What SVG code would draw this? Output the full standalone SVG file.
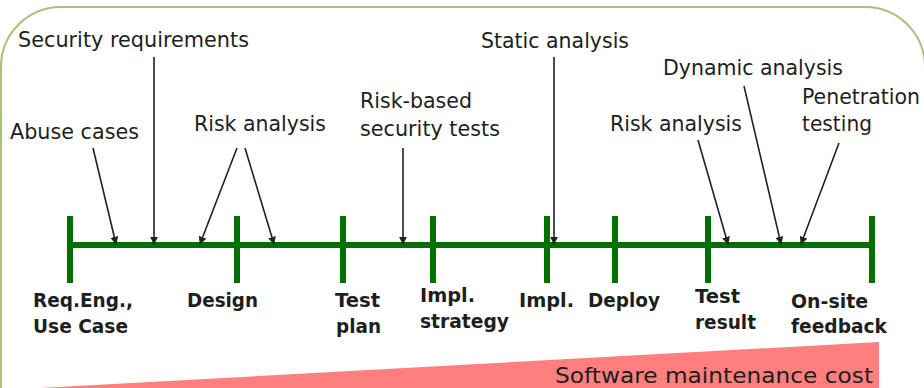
<svg xmlns="http://www.w3.org/2000/svg" width="924" height="388" viewBox="0 0 924 388">
<style>
.lbl{font-family:"DejaVu Sans",Verdana,sans-serif;font-size:20.5px;fill:#1e1e1e}
.ph{font-family:"DejaVu Sans",Verdana,sans-serif;font-size:19.5px;font-weight:bold;fill:#1e1e1e}
.tl{stroke:#007000;stroke-width:6;fill:none}
.ar{stroke:#222;stroke-width:1.6;fill:none;marker-end:url(#ah)}
</style>
<defs>
<marker id="ah" viewBox="0 0 10 10" refX="9" refY="5" markerWidth="8" markerHeight="8" markerUnits="userSpaceOnUse" orient="auto">
<path d="M0,0 L10,5 L0,10 Z" fill="#222"/>
</marker>
</defs>
<rect width="924" height="388" fill="#fff"/>
<rect id="frame" x="1" y="7" width="924" height="440" rx="60" ry="60" fill="none" stroke="#a8c07a" stroke-width="2"/>
<g id="cost">
<polygon points="40,388 879,342 879,388" fill="#ff7f7f"/>
<text class="lbl" x="555" y="383" textLength="318" lengthAdjust="spacingAndGlyphs" fill="#2a2a2a">Software maintenance cost</text>
</g>
<g id="timeline">
<line class="tl" x1="70" y1="245" x2="872" y2="245"/>
<line class="tl" x1="70" y1="216" x2="70" y2="283"/>
<line class="tl" x1="237" y1="216" x2="237" y2="283"/>
<line class="tl" x1="343" y1="216" x2="343" y2="283"/>
<line class="tl" x1="433" y1="216" x2="433" y2="283"/>
<line class="tl" x1="547" y1="216" x2="547" y2="283"/>
<line class="tl" x1="615" y1="216" x2="615" y2="283"/>
<line class="tl" x1="708" y1="216" x2="708" y2="283"/>
<line class="tl" x1="872" y1="216" x2="872" y2="283"/>
</g>
<g id="connectors">
<line class="ar" x1="93" y1="148" x2="116" y2="244"/>
<line class="ar" x1="154" y1="57" x2="154" y2="244"/>
<line class="ar" x1="237" y1="148" x2="200" y2="244"/>
<line class="ar" x1="245" y1="148" x2="274" y2="244"/>
<line class="ar" x1="403" y1="148" x2="403" y2="244"/>
<line class="ar" x1="554" y1="57" x2="554" y2="244"/>
<line class="ar" x1="698" y1="140" x2="728" y2="244"/>
<line class="ar" x1="744" y1="86" x2="781" y2="244"/>
<line class="ar" x1="839" y1="143" x2="801" y2="244"/>
</g>
<g id="activities">
<text class="lbl" x="18" y="47" textLength="231" lengthAdjust="spacingAndGlyphs">Security requirements</text>
<text class="lbl" x="10" y="139" textLength="129" lengthAdjust="spacingAndGlyphs">Abuse cases</text>
<text class="lbl" x="194" y="131" textLength="132" lengthAdjust="spacingAndGlyphs">Risk analysis</text>
<text class="lbl" x="360" y="108" textLength="112" lengthAdjust="spacingAndGlyphs">Risk-based</text>
<text class="lbl" x="360" y="136" textLength="140" lengthAdjust="spacingAndGlyphs">security tests</text>
<text class="lbl" x="481" y="48" textLength="148" lengthAdjust="spacingAndGlyphs">Static analysis</text>
<text class="lbl" x="663" y="75" textLength="180" lengthAdjust="spacingAndGlyphs">Dynamic analysis</text>
<text class="lbl" x="610" y="131" textLength="132" lengthAdjust="spacingAndGlyphs">Risk analysis</text>
<text class="lbl" x="802" y="104" textLength="118" lengthAdjust="spacingAndGlyphs">Penetration</text>
<text class="lbl" x="802" y="131" textLength="70" lengthAdjust="spacingAndGlyphs">testing</text>
</g>
<g id="phases">
<text class="ph" x="33" y="307" textLength="100" lengthAdjust="spacingAndGlyphs">Req.Eng.,</text>
<text class="ph" x="33" y="333" textLength="95" lengthAdjust="spacingAndGlyphs">Use Case</text>
<text class="ph" x="187" y="307" textLength="71" lengthAdjust="spacingAndGlyphs">Design</text>
<text class="ph" x="335" y="307" textLength="45" lengthAdjust="spacingAndGlyphs">Test</text>
<text class="ph" x="336" y="333" textLength="45" lengthAdjust="spacingAndGlyphs">plan</text>
<text class="ph" x="420" y="302" textLength="55" lengthAdjust="spacingAndGlyphs">Impl.</text>
<text class="ph" x="420" y="328" textLength="89" lengthAdjust="spacingAndGlyphs">strategy</text>
<text class="ph" x="519" y="307" textLength="55" lengthAdjust="spacingAndGlyphs">Impl.</text>
<text class="ph" x="588" y="307" textLength="72" lengthAdjust="spacingAndGlyphs">Deploy</text>
<text class="ph" x="695" y="303" textLength="45" lengthAdjust="spacingAndGlyphs">Test</text>
<text class="ph" x="695" y="329" textLength="61" lengthAdjust="spacingAndGlyphs">result</text>
<text class="ph" x="791" y="308" textLength="77" lengthAdjust="spacingAndGlyphs">On-site</text>
<text class="ph" x="791" y="333" textLength="96" lengthAdjust="spacingAndGlyphs">feedback</text>
</g>
</svg>
